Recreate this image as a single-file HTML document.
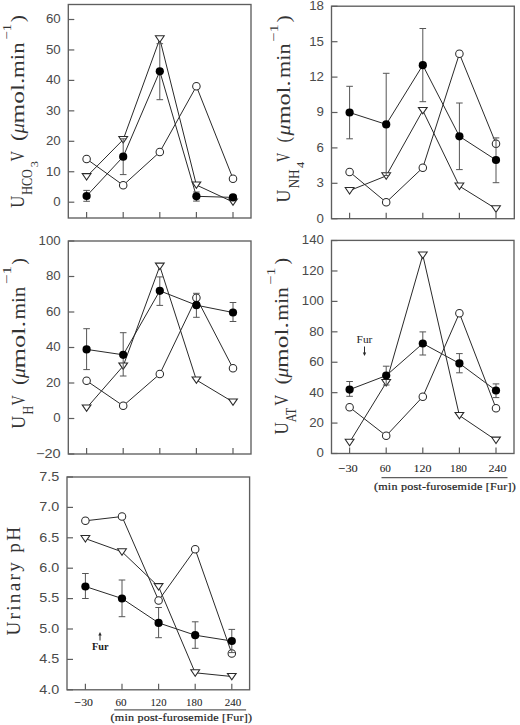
<!DOCTYPE html>
<html><head><meta charset="utf-8"><style>
html,body{margin:0;padding:0;background:#fff;}
svg{display:block;}
.s{font-family:"Liberation Sans",sans-serif;fill:#4a4a4a;}
.r{font-family:"Liberation Serif",serif;fill:#1a1a1a;}
.xl{font-family:"Liberation Serif",serif;fill:#1e1e1e;stroke:#1e1e1e;stroke-width:0.06;}
.xt{font-family:"Liberation Serif",serif;fill:#222;stroke:#222;stroke-width:0.2;}
.t{font-family:"Liberation Serif",serif;fill:#333;}
.ti{font-family:"Liberation Serif",serif;font-style:italic;fill:#333;}
</style></head><body>
<svg width="520" height="725" viewBox="0 0 520 725">
<rect width="520" height="725" fill="#fff"/>
<rect x="68.3" y="4.5" width="182.70" height="213.50" fill="none" stroke="#5e5e5e" stroke-width="1.35"/>
<line x1="86.60" y1="218" x2="86.60" y2="212.00" stroke="#5e5e5e" stroke-width="1.2"/>
<line x1="123.20" y1="218" x2="123.20" y2="212.00" stroke="#5e5e5e" stroke-width="1.2"/>
<line x1="159.80" y1="218" x2="159.80" y2="212.00" stroke="#5e5e5e" stroke-width="1.2"/>
<line x1="196.40" y1="218" x2="196.40" y2="212.00" stroke="#5e5e5e" stroke-width="1.2"/>
<line x1="233.00" y1="218" x2="233.00" y2="212.00" stroke="#5e5e5e" stroke-width="1.2"/>
<line x1="68.3" y1="202.20" x2="74.30" y2="202.20" stroke="#5e5e5e" stroke-width="1.2"/>
<text x="53.32" y="206.04" font-size="12.4" class="s" textLength="7.4" lengthAdjust="spacingAndGlyphs">0</text>
<line x1="68.3" y1="171.75" x2="74.30" y2="171.75" stroke="#5e5e5e" stroke-width="1.2"/>
<text x="45.95" y="175.59" font-size="12.4" class="s" textLength="14.8" lengthAdjust="spacingAndGlyphs">10</text>
<line x1="68.3" y1="141.30" x2="74.30" y2="141.30" stroke="#5e5e5e" stroke-width="1.2"/>
<text x="45.95" y="145.14" font-size="12.4" class="s" textLength="14.8" lengthAdjust="spacingAndGlyphs">20</text>
<line x1="68.3" y1="110.85" x2="74.30" y2="110.85" stroke="#5e5e5e" stroke-width="1.2"/>
<text x="45.95" y="114.69" font-size="12.4" class="s" textLength="14.8" lengthAdjust="spacingAndGlyphs">30</text>
<line x1="68.3" y1="80.40" x2="74.30" y2="80.40" stroke="#5e5e5e" stroke-width="1.2"/>
<text x="45.95" y="84.24" font-size="12.4" class="s" textLength="14.8" lengthAdjust="spacingAndGlyphs">40</text>
<line x1="68.3" y1="49.95" x2="74.30" y2="49.95" stroke="#5e5e5e" stroke-width="1.2"/>
<text x="45.95" y="53.79" font-size="12.4" class="s" textLength="14.8" lengthAdjust="spacingAndGlyphs">50</text>
<line x1="68.3" y1="19.50" x2="74.30" y2="19.50" stroke="#5e5e5e" stroke-width="1.2"/>
<text x="45.95" y="23.34" font-size="12.4" class="s" textLength="14.8" lengthAdjust="spacingAndGlyphs">60</text>
<polyline points="86.60,176.70 123.20,139.60 159.80,38.90 196.40,185.00 233.00,202.00" fill="none" stroke="#2a2a2a" stroke-width="1"/>
<path d="M82.20,173.60H91.00L86.60,180.10Z" fill="#fff" stroke="#2a2a2a" stroke-width="1.05" stroke-linejoin="miter"/>
<path d="M118.80,136.50H127.60L123.20,143.00Z" fill="#fff" stroke="#2a2a2a" stroke-width="1.05" stroke-linejoin="miter"/>
<path d="M155.40,35.80H164.20L159.80,42.30Z" fill="#fff" stroke="#2a2a2a" stroke-width="1.05" stroke-linejoin="miter"/>
<path d="M192.00,181.90H200.80L196.40,188.40Z" fill="#fff" stroke="#2a2a2a" stroke-width="1.05" stroke-linejoin="miter"/>
<path d="M228.60,198.90H237.40L233.00,205.40Z" fill="#fff" stroke="#2a2a2a" stroke-width="1.05" stroke-linejoin="miter"/>
<polyline points="86.60,159.00 123.20,185.20 159.80,152.00 196.40,86.30 233.00,178.70" fill="none" stroke="#2a2a2a" stroke-width="1"/>
<circle cx="86.60" cy="159.00" r="3.75" fill="#fff" stroke="#2a2a2a" stroke-width="1.05"/>
<circle cx="123.20" cy="185.20" r="3.75" fill="#fff" stroke="#2a2a2a" stroke-width="1.05"/>
<circle cx="159.80" cy="152.00" r="3.75" fill="#fff" stroke="#2a2a2a" stroke-width="1.05"/>
<circle cx="196.40" cy="86.30" r="3.75" fill="#fff" stroke="#2a2a2a" stroke-width="1.05"/>
<circle cx="233.00" cy="178.70" r="3.75" fill="#fff" stroke="#2a2a2a" stroke-width="1.05"/>
<polyline points="86.60,196.00 123.20,156.70 159.80,71.30 196.40,196.30 233.00,197.40" fill="none" stroke="#2a2a2a" stroke-width="1"/>
<path d="M86.60,190.40V201.30M83.30,190.40H89.90M83.30,201.30H89.90" stroke="#555" stroke-width="1" fill="none"/>
<path d="M123.20,138.80V174.60M119.90,138.80H126.50M119.90,174.60H126.50" stroke="#555" stroke-width="1" fill="none"/>
<path d="M159.80,43.70V99.70M156.50,43.70H163.10M156.50,99.70H163.10" stroke="#555" stroke-width="1" fill="none"/>
<path d="M196.40,192.00V201.10M193.10,192.00H199.70M193.10,201.10H199.70" stroke="#555" stroke-width="1" fill="none"/>
<path d="M233.00,196.00V198.80M229.70,196.00H236.30M229.70,198.80H236.30" stroke="#555" stroke-width="1" fill="none"/>
<circle cx="86.60" cy="196.00" r="4.1" fill="#000"/>
<circle cx="123.20" cy="156.70" r="4.1" fill="#000"/>
<circle cx="159.80" cy="71.30" r="4.1" fill="#000"/>
<circle cx="196.40" cy="196.30" r="4.1" fill="#000"/>
<circle cx="233.00" cy="197.40" r="4.1" fill="#000"/>
<rect x="331.5" y="6.2" width="182.80" height="212.50" fill="none" stroke="#5e5e5e" stroke-width="1.35"/>
<line x1="349.60" y1="218.7" x2="349.60" y2="212.70" stroke="#5e5e5e" stroke-width="1.2"/>
<line x1="386.20" y1="218.7" x2="386.20" y2="212.70" stroke="#5e5e5e" stroke-width="1.2"/>
<line x1="422.80" y1="218.7" x2="422.80" y2="212.70" stroke="#5e5e5e" stroke-width="1.2"/>
<line x1="459.40" y1="218.7" x2="459.40" y2="212.70" stroke="#5e5e5e" stroke-width="1.2"/>
<line x1="496.00" y1="218.7" x2="496.00" y2="212.70" stroke="#5e5e5e" stroke-width="1.2"/>
<line x1="331.5" y1="218.70" x2="337.50" y2="218.70" stroke="#5e5e5e" stroke-width="1.2"/>
<text x="316.52" y="222.54" font-size="12.4" class="s" textLength="7.4" lengthAdjust="spacingAndGlyphs">0</text>
<line x1="331.5" y1="183.30" x2="337.50" y2="183.30" stroke="#5e5e5e" stroke-width="1.2"/>
<text x="316.52" y="187.14" font-size="12.4" class="s" textLength="7.4" lengthAdjust="spacingAndGlyphs">3</text>
<line x1="331.5" y1="147.90" x2="337.50" y2="147.90" stroke="#5e5e5e" stroke-width="1.2"/>
<text x="316.52" y="151.74" font-size="12.4" class="s" textLength="7.4" lengthAdjust="spacingAndGlyphs">6</text>
<line x1="331.5" y1="112.50" x2="337.50" y2="112.50" stroke="#5e5e5e" stroke-width="1.2"/>
<text x="316.52" y="116.34" font-size="12.4" class="s" textLength="7.4" lengthAdjust="spacingAndGlyphs">9</text>
<line x1="331.5" y1="77.10" x2="337.50" y2="77.10" stroke="#5e5e5e" stroke-width="1.2"/>
<text x="309.15" y="80.94" font-size="12.4" class="s" textLength="14.8" lengthAdjust="spacingAndGlyphs">12</text>
<line x1="331.5" y1="41.70" x2="337.50" y2="41.70" stroke="#5e5e5e" stroke-width="1.2"/>
<text x="309.15" y="45.54" font-size="12.4" class="s" textLength="14.8" lengthAdjust="spacingAndGlyphs">15</text>
<line x1="331.5" y1="6.30" x2="337.50" y2="6.30" stroke="#5e5e5e" stroke-width="1.2"/>
<text x="309.15" y="10.14" font-size="12.4" class="s" textLength="14.8" lengthAdjust="spacingAndGlyphs">18</text>
<polyline points="349.60,190.60 386.20,175.90 422.80,110.50 459.40,186.10 496.00,208.80" fill="none" stroke="#2a2a2a" stroke-width="1"/>
<path d="M345.20,187.50H354.00L349.60,194.00Z" fill="#fff" stroke="#2a2a2a" stroke-width="1.05" stroke-linejoin="miter"/>
<path d="M381.80,172.80H390.60L386.20,179.30Z" fill="#fff" stroke="#2a2a2a" stroke-width="1.05" stroke-linejoin="miter"/>
<path d="M418.40,107.40H427.20L422.80,113.90Z" fill="#fff" stroke="#2a2a2a" stroke-width="1.05" stroke-linejoin="miter"/>
<path d="M455.00,183.00H463.80L459.40,189.50Z" fill="#fff" stroke="#2a2a2a" stroke-width="1.05" stroke-linejoin="miter"/>
<path d="M491.60,205.70H500.40L496.00,212.20Z" fill="#fff" stroke="#2a2a2a" stroke-width="1.05" stroke-linejoin="miter"/>
<polyline points="349.60,171.90 386.20,202.30 422.80,167.70 459.40,53.80 496.00,143.70" fill="none" stroke="#2a2a2a" stroke-width="1"/>
<circle cx="349.60" cy="171.90" r="3.75" fill="#fff" stroke="#2a2a2a" stroke-width="1.05"/>
<circle cx="386.20" cy="202.30" r="3.75" fill="#fff" stroke="#2a2a2a" stroke-width="1.05"/>
<circle cx="422.80" cy="167.70" r="3.75" fill="#fff" stroke="#2a2a2a" stroke-width="1.05"/>
<circle cx="459.40" cy="53.80" r="3.75" fill="#fff" stroke="#2a2a2a" stroke-width="1.05"/>
<circle cx="496.00" cy="143.70" r="3.75" fill="#fff" stroke="#2a2a2a" stroke-width="1.05"/>
<polyline points="349.60,112.50 386.20,124.40 422.80,65.20 459.40,136.30 496.00,160.00" fill="none" stroke="#2a2a2a" stroke-width="1"/>
<path d="M349.60,86.30V138.80M346.30,86.30H352.90M346.30,138.80H352.90" stroke="#555" stroke-width="1" fill="none"/>
<path d="M386.20,73.30V175.50M382.90,73.30H389.50M382.90,175.50H389.50" stroke="#555" stroke-width="1" fill="none"/>
<path d="M422.80,28.50V101.70M419.50,28.50H426.10M419.50,101.70H426.10" stroke="#555" stroke-width="1" fill="none"/>
<path d="M459.40,103.00V169.60M456.10,103.00H462.70M456.10,169.60H462.70" stroke="#555" stroke-width="1" fill="none"/>
<path d="M496.00,137.90V182.70M492.70,137.90H499.30M492.70,182.70H499.30" stroke="#555" stroke-width="1" fill="none"/>
<circle cx="349.60" cy="112.50" r="4.1" fill="#000"/>
<circle cx="386.20" cy="124.40" r="4.1" fill="#000"/>
<circle cx="422.80" cy="65.20" r="4.1" fill="#000"/>
<circle cx="459.40" cy="136.30" r="4.1" fill="#000"/>
<circle cx="496.00" cy="160.00" r="4.1" fill="#000"/>
<rect x="68.3" y="241" width="182.70" height="213.00" fill="none" stroke="#5e5e5e" stroke-width="1.35"/>
<line x1="86.60" y1="454" x2="86.60" y2="448.00" stroke="#5e5e5e" stroke-width="1.2"/>
<line x1="123.20" y1="454" x2="123.20" y2="448.00" stroke="#5e5e5e" stroke-width="1.2"/>
<line x1="159.80" y1="454" x2="159.80" y2="448.00" stroke="#5e5e5e" stroke-width="1.2"/>
<line x1="196.40" y1="454" x2="196.40" y2="448.00" stroke="#5e5e5e" stroke-width="1.2"/>
<line x1="233.00" y1="454" x2="233.00" y2="448.00" stroke="#5e5e5e" stroke-width="1.2"/>
<line x1="68.3" y1="454.00" x2="74.30" y2="454.00" stroke="#5e5e5e" stroke-width="1.2"/>
<text x="36.00" y="457.84" font-size="12.4" class="s" textLength="24.7" lengthAdjust="spacingAndGlyphs">&#8722;20</text>
<line x1="68.3" y1="418.50" x2="74.30" y2="418.50" stroke="#5e5e5e" stroke-width="1.2"/>
<text x="53.32" y="422.34" font-size="12.4" class="s" textLength="7.4" lengthAdjust="spacingAndGlyphs">0</text>
<line x1="68.3" y1="383.00" x2="74.30" y2="383.00" stroke="#5e5e5e" stroke-width="1.2"/>
<text x="45.95" y="386.84" font-size="12.4" class="s" textLength="14.8" lengthAdjust="spacingAndGlyphs">20</text>
<line x1="68.3" y1="347.50" x2="74.30" y2="347.50" stroke="#5e5e5e" stroke-width="1.2"/>
<text x="45.95" y="351.34" font-size="12.4" class="s" textLength="14.8" lengthAdjust="spacingAndGlyphs">40</text>
<line x1="68.3" y1="312.00" x2="74.30" y2="312.00" stroke="#5e5e5e" stroke-width="1.2"/>
<text x="45.95" y="315.84" font-size="12.4" class="s" textLength="14.8" lengthAdjust="spacingAndGlyphs">60</text>
<line x1="68.3" y1="276.50" x2="74.30" y2="276.50" stroke="#5e5e5e" stroke-width="1.2"/>
<text x="45.95" y="280.34" font-size="12.4" class="s" textLength="14.8" lengthAdjust="spacingAndGlyphs">80</text>
<line x1="68.3" y1="241.00" x2="74.30" y2="241.00" stroke="#5e5e5e" stroke-width="1.2"/>
<text x="38.57" y="244.84" font-size="12.4" class="s" textLength="22.1" lengthAdjust="spacingAndGlyphs">100</text>
<polyline points="86.60,408.00 123.20,366.00 159.80,266.20 196.40,380.00 233.00,402.00" fill="none" stroke="#2a2a2a" stroke-width="1"/>
<path d="M82.20,404.90H91.00L86.60,411.40Z" fill="#fff" stroke="#2a2a2a" stroke-width="1.05" stroke-linejoin="miter"/>
<path d="M118.80,362.90H127.60L123.20,369.40Z" fill="#fff" stroke="#2a2a2a" stroke-width="1.05" stroke-linejoin="miter"/>
<path d="M155.40,263.10H164.20L159.80,269.60Z" fill="#fff" stroke="#2a2a2a" stroke-width="1.05" stroke-linejoin="miter"/>
<path d="M192.00,376.90H200.80L196.40,383.40Z" fill="#fff" stroke="#2a2a2a" stroke-width="1.05" stroke-linejoin="miter"/>
<path d="M228.60,398.90H237.40L233.00,405.40Z" fill="#fff" stroke="#2a2a2a" stroke-width="1.05" stroke-linejoin="miter"/>
<polyline points="86.60,380.80 123.20,405.80 159.80,374.00 196.40,297.70 233.00,368.30" fill="none" stroke="#2a2a2a" stroke-width="1"/>
<circle cx="86.60" cy="380.80" r="3.75" fill="#fff" stroke="#2a2a2a" stroke-width="1.05"/>
<circle cx="123.20" cy="405.80" r="3.75" fill="#fff" stroke="#2a2a2a" stroke-width="1.05"/>
<circle cx="159.80" cy="374.00" r="3.75" fill="#fff" stroke="#2a2a2a" stroke-width="1.05"/>
<circle cx="196.40" cy="297.70" r="3.75" fill="#fff" stroke="#2a2a2a" stroke-width="1.05"/>
<circle cx="233.00" cy="368.30" r="3.75" fill="#fff" stroke="#2a2a2a" stroke-width="1.05"/>
<polyline points="86.60,349.40 123.20,354.80 159.80,290.80 196.40,305.20 233.00,312.50" fill="none" stroke="#2a2a2a" stroke-width="1"/>
<path d="M86.60,328.70V369.60M83.30,328.70H89.90M83.30,369.60H89.90" stroke="#555" stroke-width="1" fill="none"/>
<path d="M123.20,332.70V376.00M119.90,332.70H126.50M119.90,376.00H126.50" stroke="#555" stroke-width="1" fill="none"/>
<path d="M159.80,276.90V305.40M156.50,276.90H163.10M156.50,305.40H163.10" stroke="#555" stroke-width="1" fill="none"/>
<path d="M196.40,293.30V317.30M193.10,293.30H199.70M193.10,317.30H199.70" stroke="#555" stroke-width="1" fill="none"/>
<path d="M233.00,302.50V321.50M229.70,302.50H236.30M229.70,321.50H236.30" stroke="#555" stroke-width="1" fill="none"/>
<circle cx="86.60" cy="349.40" r="4.1" fill="#000"/>
<circle cx="123.20" cy="354.80" r="4.1" fill="#000"/>
<circle cx="159.80" cy="290.80" r="4.1" fill="#000"/>
<circle cx="196.40" cy="305.20" r="4.1" fill="#000"/>
<circle cx="233.00" cy="312.50" r="4.1" fill="#000"/>
<rect x="331.5" y="240.4" width="182.50" height="213.10" fill="none" stroke="#5e5e5e" stroke-width="1.35"/>
<line x1="349.60" y1="453.5" x2="349.60" y2="447.50" stroke="#5e5e5e" stroke-width="1.2"/>
<line x1="386.20" y1="453.5" x2="386.20" y2="447.50" stroke="#5e5e5e" stroke-width="1.2"/>
<line x1="422.80" y1="453.5" x2="422.80" y2="447.50" stroke="#5e5e5e" stroke-width="1.2"/>
<line x1="459.40" y1="453.5" x2="459.40" y2="447.50" stroke="#5e5e5e" stroke-width="1.2"/>
<line x1="496.00" y1="453.5" x2="496.00" y2="447.50" stroke="#5e5e5e" stroke-width="1.2"/>
<line x1="331.5" y1="453.50" x2="337.50" y2="453.50" stroke="#5e5e5e" stroke-width="1.2"/>
<text x="316.52" y="457.34" font-size="12.4" class="s" textLength="7.4" lengthAdjust="spacingAndGlyphs">0</text>
<line x1="331.5" y1="423.08" x2="337.50" y2="423.08" stroke="#5e5e5e" stroke-width="1.2"/>
<text x="309.15" y="426.92" font-size="12.4" class="s" textLength="14.8" lengthAdjust="spacingAndGlyphs">20</text>
<line x1="331.5" y1="392.66" x2="337.50" y2="392.66" stroke="#5e5e5e" stroke-width="1.2"/>
<text x="309.15" y="396.50" font-size="12.4" class="s" textLength="14.8" lengthAdjust="spacingAndGlyphs">40</text>
<line x1="331.5" y1="362.24" x2="337.50" y2="362.24" stroke="#5e5e5e" stroke-width="1.2"/>
<text x="309.15" y="366.08" font-size="12.4" class="s" textLength="14.8" lengthAdjust="spacingAndGlyphs">60</text>
<line x1="331.5" y1="331.82" x2="337.50" y2="331.82" stroke="#5e5e5e" stroke-width="1.2"/>
<text x="309.15" y="335.66" font-size="12.4" class="s" textLength="14.8" lengthAdjust="spacingAndGlyphs">80</text>
<line x1="331.5" y1="301.40" x2="337.50" y2="301.40" stroke="#5e5e5e" stroke-width="1.2"/>
<text x="301.77" y="305.24" font-size="12.4" class="s" textLength="22.1" lengthAdjust="spacingAndGlyphs">100</text>
<line x1="331.5" y1="270.98" x2="337.50" y2="270.98" stroke="#5e5e5e" stroke-width="1.2"/>
<text x="301.77" y="274.82" font-size="12.4" class="s" textLength="22.1" lengthAdjust="spacingAndGlyphs">120</text>
<line x1="331.5" y1="240.56" x2="337.50" y2="240.56" stroke="#5e5e5e" stroke-width="1.2"/>
<text x="301.77" y="244.40" font-size="12.4" class="s" textLength="22.1" lengthAdjust="spacingAndGlyphs">140</text>
<polyline points="349.60,442.30 386.20,382.60 422.80,255.10 459.40,415.50 496.00,440.20" fill="none" stroke="#2a2a2a" stroke-width="1"/>
<path d="M345.20,439.20H354.00L349.60,445.70Z" fill="#fff" stroke="#2a2a2a" stroke-width="1.05" stroke-linejoin="miter"/>
<path d="M381.80,379.50H390.60L386.20,386.00Z" fill="#fff" stroke="#2a2a2a" stroke-width="1.05" stroke-linejoin="miter"/>
<path d="M418.40,252.00H427.20L422.80,258.50Z" fill="#fff" stroke="#2a2a2a" stroke-width="1.05" stroke-linejoin="miter"/>
<path d="M455.00,412.40H463.80L459.40,418.90Z" fill="#fff" stroke="#2a2a2a" stroke-width="1.05" stroke-linejoin="miter"/>
<path d="M491.60,437.10H500.40L496.00,443.60Z" fill="#fff" stroke="#2a2a2a" stroke-width="1.05" stroke-linejoin="miter"/>
<polyline points="349.60,407.30 386.20,435.80 422.80,396.70 459.40,313.20 496.00,408.20" fill="none" stroke="#2a2a2a" stroke-width="1"/>
<circle cx="349.60" cy="407.30" r="3.75" fill="#fff" stroke="#2a2a2a" stroke-width="1.05"/>
<circle cx="386.20" cy="435.80" r="3.75" fill="#fff" stroke="#2a2a2a" stroke-width="1.05"/>
<circle cx="422.80" cy="396.70" r="3.75" fill="#fff" stroke="#2a2a2a" stroke-width="1.05"/>
<circle cx="459.40" cy="313.20" r="3.75" fill="#fff" stroke="#2a2a2a" stroke-width="1.05"/>
<circle cx="496.00" cy="408.20" r="3.75" fill="#fff" stroke="#2a2a2a" stroke-width="1.05"/>
<polyline points="349.60,389.60 386.20,375.60 422.80,343.50 459.40,363.40 496.00,390.50" fill="none" stroke="#2a2a2a" stroke-width="1"/>
<path d="M349.60,381.50V396.30M346.30,381.50H352.90M346.30,396.30H352.90" stroke="#555" stroke-width="1" fill="none"/>
<path d="M386.20,366.20V385.00M382.90,366.20H389.50M382.90,385.00H389.50" stroke="#555" stroke-width="1" fill="none"/>
<path d="M422.80,331.90V355.00M419.50,331.90H426.10M419.50,355.00H426.10" stroke="#555" stroke-width="1" fill="none"/>
<path d="M459.40,353.60V372.80M456.10,353.60H462.70M456.10,372.80H462.70" stroke="#555" stroke-width="1" fill="none"/>
<path d="M496.00,383.90V397.60M492.70,383.90H499.30M492.70,397.60H499.30" stroke="#555" stroke-width="1" fill="none"/>
<circle cx="349.60" cy="389.60" r="4.1" fill="#000"/>
<circle cx="386.20" cy="375.60" r="4.1" fill="#000"/>
<circle cx="422.80" cy="343.50" r="4.1" fill="#000"/>
<circle cx="459.40" cy="363.40" r="4.1" fill="#000"/>
<circle cx="496.00" cy="390.50" r="4.1" fill="#000"/>
<rect x="67" y="477" width="182.60" height="212.80" fill="none" stroke="#5e5e5e" stroke-width="1.35"/>
<line x1="85.40" y1="689.8" x2="85.40" y2="683.80" stroke="#5e5e5e" stroke-width="1.2"/>
<line x1="122.00" y1="689.8" x2="122.00" y2="683.80" stroke="#5e5e5e" stroke-width="1.2"/>
<line x1="158.60" y1="689.8" x2="158.60" y2="683.80" stroke="#5e5e5e" stroke-width="1.2"/>
<line x1="195.20" y1="689.8" x2="195.20" y2="683.80" stroke="#5e5e5e" stroke-width="1.2"/>
<line x1="231.80" y1="689.8" x2="231.80" y2="683.80" stroke="#5e5e5e" stroke-width="1.2"/>
<line x1="67" y1="689.80" x2="73.00" y2="689.80" stroke="#5e5e5e" stroke-width="1.2"/>
<text x="39.36" y="693.64" font-size="12.4" class="s" textLength="20.0" lengthAdjust="spacingAndGlyphs">4.0</text>
<line x1="67" y1="659.40" x2="73.00" y2="659.40" stroke="#5e5e5e" stroke-width="1.2"/>
<text x="39.36" y="663.24" font-size="12.4" class="s" textLength="20.0" lengthAdjust="spacingAndGlyphs">4.5</text>
<line x1="67" y1="629.00" x2="73.00" y2="629.00" stroke="#5e5e5e" stroke-width="1.2"/>
<text x="39.36" y="632.84" font-size="12.4" class="s" textLength="20.0" lengthAdjust="spacingAndGlyphs">5.0</text>
<line x1="67" y1="598.60" x2="73.00" y2="598.60" stroke="#5e5e5e" stroke-width="1.2"/>
<text x="39.36" y="602.44" font-size="12.4" class="s" textLength="20.0" lengthAdjust="spacingAndGlyphs">5.5</text>
<line x1="67" y1="568.20" x2="73.00" y2="568.20" stroke="#5e5e5e" stroke-width="1.2"/>
<text x="39.36" y="572.04" font-size="12.4" class="s" textLength="20.0" lengthAdjust="spacingAndGlyphs">6.0</text>
<line x1="67" y1="537.80" x2="73.00" y2="537.80" stroke="#5e5e5e" stroke-width="1.2"/>
<text x="39.36" y="541.64" font-size="12.4" class="s" textLength="20.0" lengthAdjust="spacingAndGlyphs">6.5</text>
<line x1="67" y1="507.40" x2="73.00" y2="507.40" stroke="#5e5e5e" stroke-width="1.2"/>
<text x="39.36" y="511.24" font-size="12.4" class="s" textLength="20.0" lengthAdjust="spacingAndGlyphs">7.0</text>
<line x1="67" y1="477.00" x2="73.00" y2="477.00" stroke="#5e5e5e" stroke-width="1.2"/>
<text x="39.36" y="480.84" font-size="12.4" class="s" textLength="20.0" lengthAdjust="spacingAndGlyphs">7.5</text>
<polyline points="85.40,538.60 122.00,551.80 158.60,586.70 195.20,672.80 231.80,676.50" fill="none" stroke="#2a2a2a" stroke-width="1"/>
<path d="M81.00,535.50H89.80L85.40,542.00Z" fill="#fff" stroke="#2a2a2a" stroke-width="1.05" stroke-linejoin="miter"/>
<path d="M117.60,548.70H126.40L122.00,555.20Z" fill="#fff" stroke="#2a2a2a" stroke-width="1.05" stroke-linejoin="miter"/>
<path d="M154.20,583.60H163.00L158.60,590.10Z" fill="#fff" stroke="#2a2a2a" stroke-width="1.05" stroke-linejoin="miter"/>
<path d="M190.80,669.70H199.60L195.20,676.20Z" fill="#fff" stroke="#2a2a2a" stroke-width="1.05" stroke-linejoin="miter"/>
<path d="M227.40,673.40H236.20L231.80,679.90Z" fill="#fff" stroke="#2a2a2a" stroke-width="1.05" stroke-linejoin="miter"/>
<polyline points="85.40,520.80 122.00,516.50 158.60,600.40 195.20,549.30 231.80,653.50" fill="none" stroke="#2a2a2a" stroke-width="1"/>
<circle cx="85.40" cy="520.80" r="3.75" fill="#fff" stroke="#2a2a2a" stroke-width="1.05"/>
<circle cx="122.00" cy="516.50" r="3.75" fill="#fff" stroke="#2a2a2a" stroke-width="1.05"/>
<circle cx="158.60" cy="600.40" r="3.75" fill="#fff" stroke="#2a2a2a" stroke-width="1.05"/>
<circle cx="195.20" cy="549.30" r="3.75" fill="#fff" stroke="#2a2a2a" stroke-width="1.05"/>
<circle cx="231.80" cy="653.50" r="3.75" fill="#fff" stroke="#2a2a2a" stroke-width="1.05"/>
<polyline points="85.40,586.50 122.00,598.50 158.60,622.90 195.20,635.20 231.80,641.00" fill="none" stroke="#2a2a2a" stroke-width="1"/>
<path d="M85.40,573.50V598.50M82.10,573.50H88.70M82.10,598.50H88.70" stroke="#555" stroke-width="1" fill="none"/>
<path d="M122.00,580.00V616.70M118.70,580.00H125.30M118.70,616.70H125.30" stroke="#555" stroke-width="1" fill="none"/>
<path d="M158.60,607.50V637.70M155.30,607.50H161.90M155.30,637.70H161.90" stroke="#555" stroke-width="1" fill="none"/>
<path d="M195.20,621.80V648.30M191.90,621.80H198.50M191.90,648.30H198.50" stroke="#555" stroke-width="1" fill="none"/>
<path d="M231.80,629.40V652.60M228.50,629.40H235.10M228.50,652.60H235.10" stroke="#555" stroke-width="1" fill="none"/>
<circle cx="85.40" cy="586.50" r="4.1" fill="#000"/>
<circle cx="122.00" cy="598.50" r="4.1" fill="#000"/>
<circle cx="158.60" cy="622.90" r="4.1" fill="#000"/>
<circle cx="195.20" cy="635.20" r="4.1" fill="#000"/>
<circle cx="231.80" cy="641.00" r="4.1" fill="#000"/>
<text x="338.43" y="471.60" font-size="10.2" class="xl" textLength="19.4" lengthAdjust="spacingAndGlyphs">&#8722;30</text>
<text x="379.70" y="471.60" font-size="10.2" class="xl" textLength="11.2" lengthAdjust="spacingAndGlyphs">60</text>
<text x="413.50" y="471.60" font-size="10.2" class="xl" textLength="18.0" lengthAdjust="spacingAndGlyphs">120</text>
<text x="450.05" y="471.60" font-size="10.2" class="xl" textLength="16.9" lengthAdjust="spacingAndGlyphs">180</text>
<text x="488.50" y="471.60" font-size="10.2" class="xl" textLength="18.0" lengthAdjust="spacingAndGlyphs">240</text>
<line x1="381.5" y1="477.6" x2="507.5" y2="477.6" stroke="#5e5e5e" stroke-width="1.3"/>
<text transform="translate(374.0,490.00) scale(1.12,1)" font-size="10.8" class="xt" textLength="126.6" lengthAdjust="spacing">(min post-furosemide [Fur])</text>
<text x="74.50" y="705.80" font-size="10.2" class="xl" textLength="18.5" lengthAdjust="spacingAndGlyphs">&#8722;30</text>
<text x="115.45" y="705.80" font-size="10.2" class="xl" textLength="11.1" lengthAdjust="spacingAndGlyphs">60</text>
<text x="150.50" y="705.80" font-size="10.2" class="xl" textLength="16.0" lengthAdjust="spacingAndGlyphs">120</text>
<text x="186.10" y="705.80" font-size="10.2" class="xl" textLength="16.2" lengthAdjust="spacingAndGlyphs">180</text>
<text x="224.75" y="705.80" font-size="10.2" class="xl" textLength="16.5" lengthAdjust="spacingAndGlyphs">240</text>
<line x1="114.2" y1="709.9" x2="246.1" y2="709.9" stroke="#5e5e5e" stroke-width="1.3"/>
<text transform="translate(110.6,721.20) scale(1.12,1)" font-size="10.8" class="xt" textLength="126.2" lengthAdjust="spacing">(min post-furosemide [Fur])</text>
<text x="356.6" y="342.9" font-size="9.5" class="r" textLength="15.8" lengthAdjust="spacingAndGlyphs">Fur</text>
<path d="M364.5,346.5V354" stroke="#2a2a2a" stroke-width="1"/><path d="M362.8,352.5L364.5,356L366.2,352.5Z" fill="#2a2a2a"/>
<text x="92" y="650" font-size="9.5" class="r" font-weight="bold" textLength="16.5" lengthAdjust="spacingAndGlyphs">Fur</text>
<path d="M100,634V640.5" stroke="#2a2a2a" stroke-width="1"/><path d="M98.3,635.5L100,632L101.7,635.5Z" fill="#2a2a2a"/>
<text transform="translate(23.80,207.80) rotate(-90)" font-size="19" class="t" textLength="12.00" lengthAdjust="spacingAndGlyphs">U</text>
<text transform="translate(31.60,194.80) rotate(-90)" font-size="14" class="t" textLength="25.60" lengthAdjust="spacingAndGlyphs">HCO</text>
<text transform="translate(38.30,167.20) rotate(-90)" font-size="10.5" class="t" textLength="6.20" lengthAdjust="spacingAndGlyphs">3</text>
<text transform="translate(23.80,161.40) rotate(-90)" font-size="19" class="t" textLength="10.50" lengthAdjust="spacingAndGlyphs">V</text>
<text transform="translate(23.80,141.00) rotate(-90)" font-size="19" class="t" textLength="7.50" lengthAdjust="spacingAndGlyphs">(</text>
<text transform="translate(23.80,133.50) rotate(-90)" font-size="19" class="ti" textLength="10.30" lengthAdjust="spacingAndGlyphs">&#956;</text>
<text transform="translate(23.80,123.40) rotate(-90)" font-size="19" class="t" textLength="45.80" lengthAdjust="spacingAndGlyphs">mol.</text>
<text transform="translate(23.80,78.00) rotate(-90)" font-size="19" class="t" textLength="35.60" lengthAdjust="spacingAndGlyphs">min</text>
<text transform="translate(11.00,39.80) rotate(-90)" font-size="13" class="t" textLength="16.00" lengthAdjust="spacingAndGlyphs">&#8722;1</text>
<text transform="translate(23.80,22.20) rotate(-90)" font-size="19" class="t" textLength="7.20" lengthAdjust="spacingAndGlyphs">)</text>
<text transform="translate(290.30,202.60) rotate(-90)" font-size="19" class="t" textLength="12.80" lengthAdjust="spacingAndGlyphs">U</text>
<text transform="translate(298.60,188.50) rotate(-90)" font-size="14" class="t" textLength="19.20" lengthAdjust="spacingAndGlyphs">NH</text>
<text transform="translate(304.20,168.00) rotate(-90)" font-size="10.5" class="t" textLength="6.20" lengthAdjust="spacingAndGlyphs">4</text>
<text transform="translate(290.30,162.00) rotate(-90)" font-size="19" class="t" textLength="9.20" lengthAdjust="spacingAndGlyphs">V</text>
<text transform="translate(290.30,142.40) rotate(-90)" font-size="19" class="t" textLength="5.60" lengthAdjust="spacingAndGlyphs">(</text>
<text transform="translate(290.30,135.60) rotate(-90)" font-size="19" class="ti" textLength="11.00" lengthAdjust="spacingAndGlyphs">&#956;</text>
<text transform="translate(290.30,124.30) rotate(-90)" font-size="19" class="t" textLength="43.80" lengthAdjust="spacingAndGlyphs">mol.</text>
<text transform="translate(290.30,77.90) rotate(-90)" font-size="19" class="t" textLength="34.40" lengthAdjust="spacingAndGlyphs">min</text>
<text transform="translate(278.20,41.90) rotate(-90)" font-size="13" class="t" textLength="17.60" lengthAdjust="spacingAndGlyphs">&#8722;1</text>
<text transform="translate(290.30,22.50) rotate(-90)" font-size="19" class="t" textLength="7.30" lengthAdjust="spacingAndGlyphs">)</text>
<text transform="translate(24.60,428.70) rotate(-90)" font-size="19" class="t" textLength="12.80" lengthAdjust="spacingAndGlyphs">U</text>
<text transform="translate(33.00,414.60) rotate(-90)" font-size="14" class="t" textLength="8.60" lengthAdjust="spacingAndGlyphs">H</text>
<text transform="translate(24.60,405.50) rotate(-90)" font-size="19" class="t" textLength="10.10" lengthAdjust="spacingAndGlyphs">V</text>
<text transform="translate(24.60,385.00) rotate(-90)" font-size="19" class="t" textLength="7.00" lengthAdjust="spacingAndGlyphs">(</text>
<text transform="translate(24.60,378.00) rotate(-90)" font-size="19" class="ti" textLength="9.80" lengthAdjust="spacingAndGlyphs">&#956;</text>
<text transform="translate(24.60,368.40) rotate(-90)" font-size="19" class="t" textLength="47.60" lengthAdjust="spacingAndGlyphs">mol.</text>
<text transform="translate(24.60,319.60) rotate(-90)" font-size="19" class="t" textLength="33.00" lengthAdjust="spacingAndGlyphs">min</text>
<text transform="translate(11.20,284.30) rotate(-90)" font-size="13" class="t" textLength="18.30" lengthAdjust="spacingAndGlyphs">&#8722;1</text>
<text transform="translate(24.60,264.50) rotate(-90)" font-size="19" class="t" textLength="6.20" lengthAdjust="spacingAndGlyphs">)</text>
<text transform="translate(288.00,434.40) rotate(-90)" font-size="19" class="t" textLength="12.30" lengthAdjust="spacingAndGlyphs">U</text>
<text transform="translate(296.40,422.30) rotate(-90)" font-size="14" class="t" textLength="14.60" lengthAdjust="spacingAndGlyphs">AT</text>
<text transform="translate(288.00,405.70) rotate(-90)" font-size="19" class="t" textLength="10.90" lengthAdjust="spacingAndGlyphs">V</text>
<text transform="translate(288.00,384.40) rotate(-90)" font-size="19" class="t" textLength="7.00" lengthAdjust="spacingAndGlyphs">(</text>
<text transform="translate(288.00,377.40) rotate(-90)" font-size="19" class="ti" textLength="9.80" lengthAdjust="spacingAndGlyphs">&#956;</text>
<text transform="translate(288.00,367.90) rotate(-90)" font-size="19" class="t" textLength="45.80" lengthAdjust="spacingAndGlyphs">mol.</text>
<text transform="translate(288.00,320.70) rotate(-90)" font-size="19" class="t" textLength="33.50" lengthAdjust="spacingAndGlyphs">min</text>
<text transform="translate(275.20,285.00) rotate(-90)" font-size="13" class="t" textLength="17.60" lengthAdjust="spacingAndGlyphs">&#8722;1</text>
<text transform="translate(288.00,264.60) rotate(-90)" font-size="19" class="t" textLength="6.60" lengthAdjust="spacingAndGlyphs">)</text>
<text transform="translate(19.8,635.6) rotate(-90)" font-size="19.2" class="t" textLength="108.60" lengthAdjust="spacing">Urinary pH</text>
</svg>
</body></html>
